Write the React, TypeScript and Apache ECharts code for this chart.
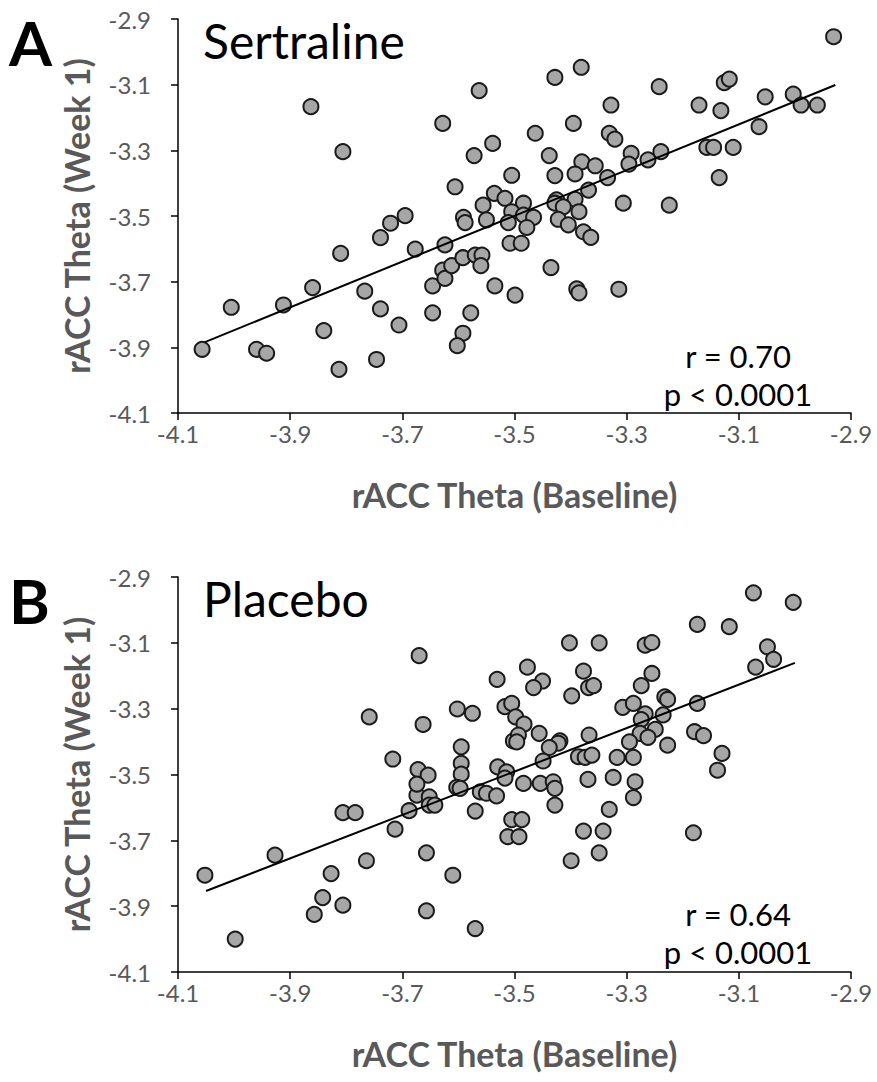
import React, { useEffect, useRef } from "react";
import * as echarts from "echarts";

// ---- Data ----
const axisMin = -4.1;
const axisMax = -2.9;
const tickStep = 0.2;
const tickLabels = ["-4.1", "-3.9", "-3.7", "-3.5", "-3.3", "-3.1", "-2.9"];

const xTitle = "rACC Theta (Baseline)";
const yTitle = "rACC Theta (Week 1)";

// Panel A: Sertraline
const sertralineBaseline = [
  -3.863, -3.806, -3.563, -3.628, -3.539, -3.572, -3.505, -3.606, -3.536, -3.556, -3.517,
  -2.931, -3.428, -3.381, -3.242, -3.126, -3.117, -3.328, -3.171, -3.132, -3.053, -3.003,
  -2.989, -2.96, -3.064, -3.395, -3.463, -3.331, -3.321, -3.292, -3.296, -3.262, -3.239,
  -3.157, -3.145, -3.11, -3.135, -3.438, -3.38, -3.356, -3.392, -3.428, -3.334, -3.368,
  -3.484, -3.425, -3.428, -3.392, -3.413, -3.385, -3.306, -3.224,
  -3.505, -3.484, -3.466, -3.511, -3.478, -3.422, -3.404, -3.377, -3.364, -3.508, -3.488,
  -3.435, -3.499, -3.389, -3.385, -3.314,
  -4.057, -4.005, -3.96, -3.942, -3.912, -3.86, -3.84, -3.813, -3.81, -3.767, -3.739,
  -3.721, -3.695, -3.739, -3.746, -3.706, -3.677, -3.646, -3.646, -3.624, -3.628, -3.624,
  -3.612, -3.592, -3.578, -3.592, -3.602, -3.57, -3.558, -3.56, -3.535, -3.591, -3.588, -3.55,
];
const sertralineWeek1 = [
  -3.167, -3.304, -3.118, -3.218, -3.279, -3.316, -3.376, -3.411, -3.431, -3.467, -3.446,
  -2.954, -3.078, -3.047, -3.106, -3.094, -3.083, -3.162, -3.162, -3.179, -3.137, -3.129,
  -3.162, -3.162, -3.228, -3.218, -3.248, -3.248, -3.266, -3.309, -3.342, -3.329, -3.304,
  -3.291, -3.291, -3.291, -3.383, -3.316, -3.335, -3.347, -3.372, -3.377, -3.383, -3.421,
  -3.461, -3.451, -3.461, -3.449, -3.472, -3.487, -3.461, -3.467,
  -3.487, -3.497, -3.504, -3.52, -3.535, -3.51, -3.527, -3.548, -3.565, -3.583, -3.583,
  -3.657, -3.741, -3.722, -3.734, -3.723,
  -3.906, -3.778, -3.906, -3.918, -3.771, -3.718, -3.849, -3.967, -3.614, -3.729, -3.566,
  -3.522, -3.499, -3.783, -3.937, -3.832, -3.601, -3.713, -3.795, -3.588, -3.665, -3.69,
  -3.651, -3.627, -3.795, -3.857, -3.895, -3.619, -3.619, -3.651, -3.713, -3.504, -3.52, -3.512,
];
const sertralineFitX = [-4.052, -2.928];
const sertralineFitY = [-3.884, -3.101];
const sertralineStats = ["r = 0.70", "p < 0.0001"];

// Panel B: Placebo
const placeboBaseline = [
  -3.67, -3.531, -3.759, -3.663, -3.602, -3.575, -3.517, -3.505, -3.498, -3.595, -3.717,
  -3.502, -3.672, -3.654, -3.595, -3.595, -3.53, -3.514,
  -3.074, -3.003, -3.174, -3.117, -3.402, -3.349, -3.267, -3.255, -3.049, -3.038, -3.07,
  -3.477, -3.377, -3.45, -3.466, -3.368, -3.359, -3.255, -3.274, -3.398, -3.232, -3.227,
  -3.174, -3.307, -3.288, -3.483, -3.267, -3.274, -3.235, -3.249, -3.276, -3.262, -3.295,
  -3.227, -3.179, -3.163, -3.13, -3.138, -3.456, -3.493, -3.496, -3.419, -3.422, -3.438,
  -3.367, -3.449, -3.386, -3.374, -3.362, -3.317, -3.288,
  -3.517, -3.484, -3.454, -3.431, -3.428, -3.369, -3.324, -3.285, -3.288, -3.428, -3.331,
  -3.505, -3.487, -3.512, -3.492, -3.377, -3.342, -3.181, -3.349, -3.399,
  -4.052, -3.998, -3.927, -3.842, -3.857, -3.827, -3.806, -3.806, -3.784, -3.764, -3.713,
  -3.688, -3.674, -3.674, -3.652, -3.652, -3.642, -3.657, -3.657, -3.603, -3.597, -3.57,
  -3.61, -3.57, -3.561, -3.55, -3.532,
];
const placeboWeek1 = [
  -3.139, -3.211, -3.325, -3.348, -3.301, -3.314, -3.294, -3.284, -3.325, -3.416, -3.453,
  -3.398, -3.485, -3.502, -3.466, -3.499, -3.477, -3.492,
  -2.948, -2.977, -3.044, -3.051, -3.1, -3.1, -3.107, -3.099, -3.112, -3.15, -3.174,
  -3.174, -3.186, -3.216, -3.236, -3.236, -3.23, -3.193, -3.23, -3.261, -3.264, -3.272,
  -3.284, -3.296, -3.284, -3.347, -3.316, -3.333, -3.319, -3.363, -3.375, -3.387, -3.401,
  -3.411, -3.37, -3.382, -3.436, -3.487, -3.375, -3.38, -3.401, -3.398, -3.405, -3.418,
  -3.38, -3.459, -3.446, -3.448, -3.441, -3.448, -3.448,
  -3.511, -3.527, -3.527, -3.522, -3.542, -3.515, -3.509, -3.522, -3.57, -3.593, -3.606,
  -3.637, -3.637, -3.689, -3.689, -3.672, -3.672, -3.677, -3.738, -3.762,
  -3.806, -4.0, -3.745, -3.874, -3.925, -3.801, -3.897, -3.616, -3.616, -3.762, -3.666,
  -3.61, -3.563, -3.529, -3.568, -3.593, -3.593, -3.738, -3.914, -3.539, -3.542, -3.611,
  -3.806, -3.968, -3.553, -3.557, -3.565,
];
const placeboFitX = [-4.05, -3.0];
const placeboFitY = [-3.854, -3.161];
const placeboStats = ["r = 0.64", "p < 0.0001"];

const panelLetters = ["A", "B"];
const panelNames = ["Sertraline", "Placebo"];

// ---- Styling ----
const FONT = "Lato, 'Open Sans', sans-serif";
const GRAY = "#595959";

const pairs = (xs: number[], ys: number[]) => xs.map((x, i) => [x, ys[i]]);

export default function App() {
  const ref = useRef<HTMLDivElement>(null);

  useEffect(() => {
    if (!ref.current) return;
    const chart = echarts.init(ref.current, null, { renderer: "svg" });

    const grids = [
      { left: 178, top: 19, width: 673, height: 394 },
      { left: 178, top: 577, width: 673, height: 395 },
    ];

    const fmt = (v: number) => {
      const idx = Math.round((v - axisMin) / tickStep);
      return tickLabels[idx] ?? v.toFixed(1);
    };

    const xAxes = grids.map((_, i) => ({
      gridIndex: i,
      type: "value",
      min: axisMin,
      max: axisMax,
      interval: tickStep,
      axisLine: { show: true, onZero: false, lineStyle: { color: "#000", width: 1.5 } },
      axisTick: { show: true, length: 7, lineStyle: { color: "#000", width: 1.5 } },
      splitLine: { show: false },
      axisLabel: { color: GRAY, fontSize: 24, fontFamily: FONT, margin: 8, formatter: fmt },
      name: xTitle,
      nameLocation: "middle",
      nameGap: 64,
      nameTextStyle: { color: GRAY, fontSize: 34, fontWeight: "bold", fontFamily: FONT },
    }));

    const yAxes = grids.map((_, i) => ({
      gridIndex: i,
      type: "value",
      min: axisMin,
      max: axisMax,
      interval: tickStep,
      axisLine: { show: true, onZero: false, lineStyle: { color: "#000", width: 1.5 } },
      axisTick: { show: true, length: 7, lineStyle: { color: "#000", width: 1.5 } },
      splitLine: { show: false },
      axisLabel: { color: GRAY, fontSize: 24, fontFamily: FONT, margin: 27, formatter: fmt },
    }));

    const scatterStyle = {
      type: "scatter",
      symbol: "circle",
      symbolSize: 15,
      itemStyle: { color: "#A6A6A6", borderColor: "#1A1A1A", borderWidth: 2, opacity: 1 },
      z: 2,
    };
    const lineStyle = {
      type: "line",
      symbol: "none",
      lineStyle: { color: "#000", width: 2 },
      z: 3,
    };

    const series = [
      { ...scatterStyle, name: panelNames[0], xAxisIndex: 0, yAxisIndex: 0, data: pairs(sertralineBaseline, sertralineWeek1) },
      { ...lineStyle, name: panelNames[0] + " fit", xAxisIndex: 0, yAxisIndex: 0, data: pairs(sertralineFitX, sertralineFitY) },
      { ...scatterStyle, name: panelNames[1], xAxisIndex: 1, yAxisIndex: 1, data: pairs(placeboBaseline, placeboWeek1) },
      { ...lineStyle, name: panelNames[1] + " fit", xAxisIndex: 1, yAxisIndex: 1, data: pairs(placeboFitX, placeboFitY) },
    ];

    const statTexts = [sertralineStats, placeboStats];
    const graphic: any[] = [];
    grids.forEach((g, i) => {
      graphic.push({
        type: "text",
        x: 9,
        y: g.top - 8,
        style: { text: panelLetters[i], fill: "#000", font: `bold 62px ${FONT}` },
      });
      graphic.push({
        type: "text",
        x: 203,
        y: g.top + 45,
        style: { text: panelNames[i], fill: "#000", font: `48px ${FONT}`, textVerticalAlign: "bottom" },
      });
      statTexts[i].forEach((t, j) => {
        graphic.push({
          type: "text",
          x: 738,
          y: g.top + 337 + j * 38,
          style: {
            text: t,
            fill: "#000",
            font: `31px ${FONT}`,
            textAlign: "center",
            textVerticalAlign: "middle",
          },
        });
      });
      graphic.push({
        type: "text",
        x: 76,
        y: g.top + g.height / 2,
        rotation: Math.PI / 2,
        style: {
          text: yTitle,
          fill: GRAY,
          font: `bold 34px ${FONT}`,
          textAlign: "center",
          textVerticalAlign: "middle",
        },
      });
    });

    chart.setOption({
      animation: false,
      backgroundColor: "#fff",
      grid: grids,
      xAxis: xAxes,
      yAxis: yAxes,
      series,
      graphic,
    });

    return () => chart.dispose();
  }, []);

  return (
    <div
      ref={ref}
      style={{ position: "absolute", left: 0, top: 0, width: 877, height: 1082, background: "#fff" }}
    />
  );
}
